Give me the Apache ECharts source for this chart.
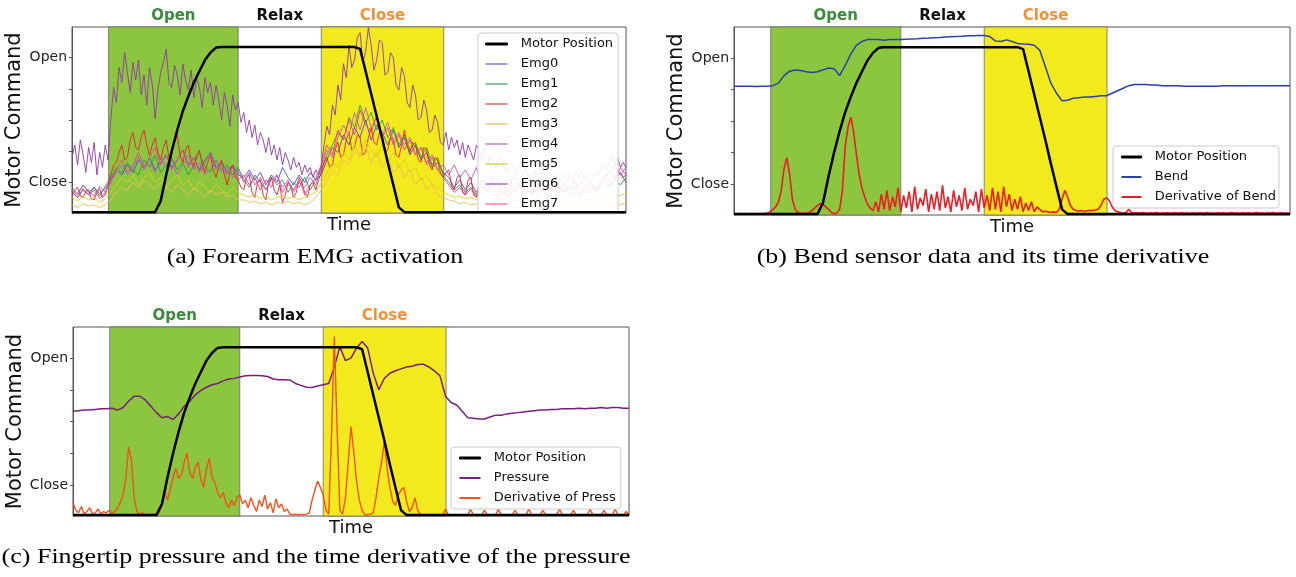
<!DOCTYPE html>
<html>
<head>
<meta charset="utf-8">
<title>Motor command, EMG, bend and pressure</title>
<script src="https://cdn.jsdelivr.net/npm/echarts@6/dist/echarts.min.js"></script>
<style>
  html, body { margin: 0; padding: 0; background: #fff; }
  #chart { width: 1296px; height: 577px; }
</style>
</head>
<body>
<div id="chart"></div>
<script>
// ---- data (motor command units: Close = 0, Open = 1) ----
const phaseNames = ['Open', 'Relax', 'Close']
const phaseStarts = [6.6, 30.0, 45.0]
const phaseEnds = [30.0, 45.0, 67.1]

const commandTicks = [0, 0.25, 0.5, 0.75, 1]
const commandLabelValues = [0, 1]
const commandLabels = ['Close', 'Open']

const captions = [
  '(a) Forearm EMG activation',
  '(b) Bend sensor data and its time derivative',
  '(c) Fingertip pressure and the time derivative of the pressure'
]

const emgNames = ['Emg0', 'Emg1', 'Emg2', 'Emg3', 'Emg4', 'Emg5', 'Emg6', 'Emg7']

// one sample per time unit (0..100)
const motorPosition = [
  -0.238, -0.238, -0.238, -0.238, -0.238, -0.238, -0.238, -0.238, -0.238, -0.238, -0.238, -0.238, -0.238, -0.238, -0.238, -0.238,
  -0.15, 0.06, 0.25, 0.42, 0.57, 0.69, 0.80, 0.89, 0.98, 1.04, 1.08,
  1.085, 1.085, 1.085, 1.085, 1.085, 1.085, 1.085, 1.085, 1.085, 1.085, 1.085, 1.085, 1.085, 1.085, 1.085, 1.085, 1.085, 1.085, 1.085, 1.085, 1.085, 1.085, 1.085, 1.085, 1.085,
  1.07, 0.89, 0.71, 0.53, 0.35, 0.16, -0.02, -0.20,
  -0.238, -0.238, -0.238, -0.238, -0.238, -0.238, -0.238, -0.238, -0.238, -0.238, -0.238, -0.238, -0.238, -0.238, -0.238, -0.238, -0.238, -0.238, -0.238, -0.238,
  -0.238, -0.238, -0.238, -0.238, -0.238, -0.238, -0.238, -0.238, -0.238, -0.238, -0.238, -0.238, -0.238, -0.238, -0.238, -0.238, -0.238, -0.238, -0.238, -0.238, -0.238
]

const emg0 = [
  -0.08, -0.12, -0.06, -0.10, -0.04, -0.09, -0.05,
  0.02, 0.10, 0.06, 0.14, 0.08, 0.18, 0.12, 0.20, 0.10, 0.16, 0.22, 0.12, 0.18, 0.26, 0.14, 0.20, 0.10, 0.18, 0.24, 0.12, 0.16, 0.08, 0.14, 0.06,
  0.04, 0.10, 0.02, 0.08, -0.02, 0.06, 0.00, 0.12, 0.04, -0.02, 0.06, 0.00, 0.08, 0.02,
  0.06, 0.18, 0.28, 0.24, 0.38, 0.30, 0.44, 0.36, 0.50, 0.34, 0.46, 0.40, 0.30, 0.42, 0.28, 0.36, 0.22, 0.30, 0.18, 0.24, 0.12, 0.16, 0.08,
  0.04, -0.04, 0.02, -0.06, 0.00, -0.08, -0.02, -0.06, 0.02, -0.04, -0.08, -0.02, -0.06, 0.00, -0.05, -0.09, -0.03, -0.07, 0.00, -0.05,
  -0.02, -0.08, -0.03, -0.06, 0.01, -0.04, -0.07, -0.02, 0.04, -0.03, 0.02, 0.08, 0.00
]
const emg1 = [
  -0.06, -0.10, -0.02, -0.08, -0.04, -0.11, -0.03,
  0.04, 0.12, 0.08, 0.16, 0.10, 0.06, 0.18, 0.12, 0.22, 0.08, 0.14, 0.20, 0.10, 0.16, 0.06, 0.14, 0.24, 0.12, 0.08, 0.18, 0.10, 0.14, 0.06, 0.12,
  0.02, -0.04, 0.06, 0.00, -0.06, 0.04, -0.02, 0.02, -0.08, 0.00, -0.04, 0.04, -0.06, 0.02,
  0.10, 0.22, 0.30, 0.40, 0.34, 0.52, 0.44, 0.62, 0.48, 0.56, 0.42, 0.50, 0.36, 0.44, 0.30, 0.38, 0.26, 0.32, 0.20, 0.28, 0.14, 0.20, 0.06,
  0.00, -0.06, -0.02, -0.08, -0.04, -0.10, -0.03, -0.07, -0.01, -0.06, -0.09, -0.04, -0.08, -0.02, -0.06, -0.10, -0.04, -0.07, -0.02, -0.06,
  -0.09, -0.03, -0.07, -0.02, -0.05, -0.09, -0.04, -0.06, 0.00, -0.04, 0.02, -0.02, 0.04
]
const emg3 = [
  -0.18, -0.20, -0.17, -0.19, -0.18, -0.20, -0.18,
  -0.14, -0.08, -0.04, -0.06, 0.00, -0.04, 0.02, -0.02, -0.06, 0.00, -0.04, -0.08, -0.02, -0.06, -0.10, -0.04, -0.08, -0.12, -0.06, -0.10, -0.08, -0.12, -0.10, -0.14,
  -0.14, -0.16, -0.15, -0.17, -0.16, -0.18, -0.16, -0.17, -0.15, -0.17, -0.16, -0.18, -0.16, -0.12,
  -0.06, 0.02, 0.10, 0.06, 0.18, 0.14, 0.26, 0.20, 0.30, 0.16, 0.24, 0.12, 0.20, 0.08, 0.14, 0.04, 0.10, -0.02, 0.04, -0.06, -0.02, -0.10, -0.12,
  -0.14, -0.15, -0.17, -0.16, -0.18, -0.17, -0.19, -0.18, -0.20, -0.19, -0.20, -0.19, -0.21, -0.20, -0.19, -0.21, -0.20, -0.19, -0.20, -0.21,
  -0.20, -0.19, -0.20, -0.21, -0.20, -0.19, -0.20, -0.19, -0.18, -0.19, -0.17, -0.18, -0.16
]
const emg4 = [
  -0.04, -0.09, -0.02, -0.07, -0.11, -0.03, -0.08,
  0.00, 0.08, 0.14, 0.06, 0.12, 0.20, 0.10, 0.16, 0.08, 0.20, 0.12, 0.18, 0.06, 0.14, 0.22, 0.10, 0.16, 0.06, 0.12, 0.18, 0.08, 0.12, 0.04, 0.10,
  0.00, 0.08, -0.02, 0.04, -0.06, 0.02, 0.06, -0.04, 0.02, -0.08, 0.00, -0.04, 0.04, -0.02,
  0.12, 0.26, 0.20, 0.36, 0.46, 0.38, 0.56, 0.42, 0.60, 0.44, 0.52, 0.38, 0.48, 0.34, 0.40, 0.30, 0.36, 0.22, 0.28, 0.16, 0.22, 0.10, 0.14,
  0.06, 0.14, 0.04, 0.10, 0.02, 0.12, -0.02, 0.06, -0.04, 0.04, -0.06, 0.02, -0.08, 0.00, -0.04, -0.08, -0.02, -0.06, -0.10, -0.04,
  -0.08, -0.02, -0.06, -0.09, -0.03, -0.07, -0.01, -0.05, 0.02, 0.08, 0.14, 0.06, 0.12
]
const emg5 = [
  -0.12, -0.15, -0.11, -0.14, -0.12, -0.16, -0.13,
  -0.08, -0.02, 0.04, 0.00, 0.06, -0.02, 0.04, 0.08, 0.00, 0.04, -0.04, 0.02, 0.06, -0.02, 0.02, -0.06, 0.00, -0.04, -0.08, -0.02, -0.06, -0.10, -0.04, -0.08,
  -0.10, -0.12, -0.09, -0.13, -0.11, -0.14, -0.12, -0.10, -0.13, -0.11, -0.14, -0.12, -0.10, -0.08,
  0.00, 0.08, 0.16, 0.12, 0.24, 0.18, 0.30, 0.22, 0.34, 0.26, 0.20, 0.30, 0.16, 0.24, 0.12, 0.18, 0.08, 0.12, 0.02, 0.06, -0.02, -0.04, -0.08,
  -0.10, -0.12, -0.11, -0.13, -0.12, -0.14, -0.13, -0.12, -0.15, -0.13, -0.14, -0.12, -0.15, -0.13, -0.14, -0.16, -0.13, -0.15, -0.14, -0.12,
  -0.15, -0.13, -0.14, -0.16, -0.14, -0.13, -0.15, -0.12, -0.10, -0.12, -0.09, -0.11, -0.08
]
const emg7 = [
  -0.07, -0.12, -0.05, -0.10, -0.06, -0.13, -0.08,
  0.02, 0.10, 0.18, 0.08, 0.14, 0.24, 0.12, 0.20, 0.28, 0.14, 0.22, 0.10, 0.18, 0.26, 0.12, 0.20, 0.08, 0.16, 0.22, 0.10, 0.14, 0.06, 0.12, 0.02,
  0.06, -0.02, 0.04, -0.06, 0.02, -0.04, 0.06, -0.08, 0.00, -0.06, 0.02, -0.10, -0.02, 0.04,
  0.14, 0.30, 0.22, 0.42, 0.34, 0.50, 0.38, 0.58, 0.46, 0.40, 0.54, 0.36, 0.44, 0.30, 0.38, 0.26, 0.34, 0.22, 0.28, 0.14, 0.20, 0.10, 0.04,
  -0.02, -0.08, -0.04, -0.10, -0.05, -0.12, -0.06, -0.02, -0.08, -0.12, -0.04, -0.09, -0.06, -0.11, -0.03, -0.08, -0.12, -0.05, -0.09, -0.04,
  -0.10, -0.06, -0.11, -0.03, -0.08, -0.05, -0.10, -0.02, 0.04, 0.10, 0.02, 0.12, 0.06
]

const bend = [
  0.775, 0.775, 0.776, 0.775, 0.774, 0.775, 0.776, 0.780,
  0.80, 0.86, 0.895, 0.905, 0.90, 0.89, 0.885, 0.89, 0.905, 0.92, 0.915, 0.86, 0.94, 1.03, 1.10, 1.13, 1.145, 1.145, 1.145, 1.14, 1.145, 1.145, 1.145,
  1.148, 1.15, 1.152, 1.155, 1.157, 1.16, 1.162, 1.165, 1.168, 1.17, 1.172, 1.175, 1.176, 1.177,
  1.177, 1.17, 1.135, 1.13, 1.143, 1.13, 1.115, 1.11, 1.108, 1.10, 1.06, 0.93, 0.80, 0.72, 0.66, 0.665, 0.68, 0.685, 0.69, 0.69,
  0.695, 0.70, 0.70, 0.72, 0.74, 0.76, 0.78, 0.79,
  0.79, 0.79, 0.785, 0.785, 0.78, 0.78, 0.78, 0.78, 0.775, 0.775, 0.775, 0.775, 0.775, 0.775, 0.775, 0.78,
  0.78, 0.78, 0.78, 0.78, 0.78, 0.78, 0.78, 0.78, 0.78, 0.78, 0.78, 0.78
]

const pressure = [
  0.58, 0.585, 0.59, 0.59, 0.595, 0.60, 0.60, 0.605,
  0.59, 0.61, 0.66, 0.70, 0.70, 0.67, 0.62, 0.57, 0.53, 0.54, 0.515, 0.56, 0.62, 0.66, 0.71, 0.745, 0.77, 0.79, 0.80, 0.82, 0.835, 0.84, 0.85,
  0.86, 0.863, 0.862, 0.86, 0.855, 0.835, 0.83, 0.83, 0.828, 0.80, 0.785, 0.77, 0.768, 0.78, 0.79, 0.80,
  0.93, 1.09, 0.98, 1.00, 1.08, 1.13, 1.08, 0.88, 0.75, 0.84, 0.88, 0.90, 0.915, 0.93, 0.935, 0.95, 0.952, 0.93, 0.90, 0.86, 0.70, 0.65, 0.63, 0.58,
  0.53, 0.525, 0.52, 0.52, 0.535, 0.55, 0.55, 0.56, 0.565, 0.57, 0.575, 0.58, 0.585, 0.59, 0.59,
  0.595, 0.595, 0.60, 0.60, 0.60, 0.605, 0.60, 0.605, 0.605, 0.61, 0.605, 0.61, 0.61, 0.605, 0.605
]

// two samples per time unit (0..100 by 0.5)
const emg2 = [
  -0.10, -0.06, -0.04, -0.11, -0.12, -0.07, -0.06, -0.13, -0.14, -0.08, -0.05, -0.12, -0.10, -0.02,
  0.06, 0.14, 0.16, 0.24, 0.30, 0.18, 0.20, 0.34, 0.40, 0.28,
  0.26, 0.36, 0.42, 0.30, 0.22, 0.30, 0.36, 0.24, 0.18, 0.28,
  0.34, 0.20, 0.24, 0.32, 0.38, 0.22, 0.16, 0.26, 0.30, 0.18,
  0.12, 0.22, 0.26, 0.14, 0.08, 0.16, 0.22, 0.10, 0.04, 0.12,
  0.18, 0.06, -0.02, 0.08, 0.14, 0.04, 0.02,
  -0.04, -0.06, 0.04, 0.06, -0.08, -0.12, 0.00, 0.02, -0.10, -0.14,
  0.00, 0.04, -0.06, -0.10, -0.02, -0.16, -0.10, 0.00, -0.04, -0.12,
  -0.08, 0.04, 0.00, -0.08, -0.12, -0.02, 0.00, -0.06, 0.02,
  0.08, 0.16, 0.20, 0.12, 0.14, 0.26, 0.32, 0.20, 0.22, 0.34,
  0.40, 0.26, 0.28, 0.38, 0.36, 0.22, 0.24, 0.36, 0.44, 0.32,
  0.30, 0.40, 0.38, 0.24, 0.26, 0.36, 0.34, 0.22, 0.20, 0.30,
  0.42, 0.30, 0.24, 0.32, 0.30, 0.18, 0.16, 0.28, 0.26, 0.14,
  0.10, 0.20, 0.18, 0.08, 0.04,
  0.08, 0.10, -0.02, -0.06, 0.04, 0.06, -0.08, -0.10, 0.02, 0.04,
  -0.10, -0.12, 0.00, 0.02, -0.06, -0.08, 0.04, 0.06, -0.08, -0.10,
  0.00, -0.02, -0.12, -0.08, 0.04, 0.04, -0.06, -0.06, -0.12, -0.10,
  0.02, 0.00, -0.08, -0.06, 0.04, 0.00, -0.10, -0.12, -0.02, 0.02,
  -0.12, -0.08, 0.00, -0.02, -0.06, -0.04, 0.03, 0.00, -0.10, -0.08,
  -0.04, 0.00, 0.02, -0.04, -0.08, -0.06, 0.00, 0.04, 0.06, 0.00,
  -0.02, 0.04, 0.10, 0.06, 0.04, 0.06
]
const emg6 = [
  0.20, 0.30, 0.14, 0.34, 0.22, 0.08, 0.28, 0.16, 0.32, 0.06, 0.24, 0.12, 0.30, 0.18,
  0.50, 0.76, 0.64, 0.92, 0.80, 1.04, 0.88, 0.72, 0.96, 0.82,
  0.98, 0.70, 0.86, 0.62, 0.92, 0.78, 0.51, 0.74, 0.88, 0.96,
  1.07, 0.80, 0.76, 0.94, 0.86, 0.70, 0.95, 0.82, 0.74, 0.90,
  0.68, 0.84, 0.76, 0.60, 0.84, 0.72, 0.80, 0.62, 0.78, 0.66,
  0.50, 0.72, 0.62, 0.45, 0.70, 0.58, 0.64,
  0.48, 0.56, 0.40, 0.50, 0.36, 0.46, 0.30, 0.40, 0.34, 0.24,
  0.36, 0.22, 0.30, 0.18, 0.28, 0.14, 0.24, 0.18, 0.10, 0.20,
  0.12, 0.16, 0.06, 0.14, 0.08, 0.12, 0.04, 0.10, 0.06,
  0.14, 0.30, 0.45, 0.38, 0.62, 0.54, 0.78, 0.66, 0.95, 0.84,
  1.10, 0.92, 0.98, 1.16, 1.20, 0.96, 1.05, 1.24, 1.10, 0.90,
  0.98, 1.14, 1.12, 0.86, 0.88, 1.04, 1.00, 0.78, 0.74, 0.92,
  0.85, 0.64, 0.60, 0.78, 0.70, 0.50, 0.52, 0.66, 0.58, 0.40,
  0.42, 0.54, 0.48, 0.32, 0.30,
  0.40, 0.26, 0.36, 0.28, 0.34, 0.22, 0.32, 0.20, 0.30, 0.24,
  0.18, 0.30, 0.26, 0.16, 0.28, 0.14, 0.22, 0.18, 0.10, 0.20,
  0.18, 0.12, 0.08, 0.16, 0.14, 0.06, 0.12, 0.10, 0.06, 0.12,
  0.04, 0.08, 0.10, 0.02, 0.08, 0.06, 0.00, 0.06, 0.08, 0.02,
  0.06, 0.00, 0.04, 0.08, 0.02, 0.06, 0.00, 0.08, 0.04, 0.10,
  0.02, 0.06, 0.08, 0.04, 0.10, 0.06, 0.12, 0.14, 0.10, 0.18,
  0.22, 0.14, 0.20, 0.12, 0.16, 0.12
]

const bendDerivative = [
  -0.232, -0.235, -0.233, -0.235, -0.234, -0.235, -0.233, -0.235, -0.234, -0.235, -0.233, -0.234, -0.23,
  -0.22, -0.20, -0.18, -0.14, -0.05, 0.12, 0.21, 0.08, -0.12, -0.20,
  -0.225, -0.232, -0.234, -0.23, -0.225, -0.21, -0.19, -0.17, -0.155, -0.16,
  -0.18, -0.20, -0.225, -0.235, -0.23, -0.20, -0.05, 0.30, 0.45, 0.53,
  0.42, 0.24, 0.08, -0.03, -0.10, -0.16, -0.19, -0.21, -0.14,
  -0.22, -0.08, -0.20, -0.05, -0.21, -0.10, -0.18, -0.03, -0.22, -0.09,
  -0.19, -0.06, -0.22, -0.02, -0.20, -0.11, -0.17, -0.04, -0.22, -0.08,
  -0.20, -0.06, -0.21, -0.01, -0.19, -0.10, -0.22, -0.05, -0.18, -0.09,
  -0.21, -0.03, -0.20, -0.12, -0.17, -0.06, -0.22, -0.04, -0.19,
  -0.09, -0.21, -0.03, -0.20, -0.06, -0.22, -0.02, -0.18, -0.08, -0.21,
  -0.12, -0.20, -0.10, -0.22, -0.15, -0.21, -0.14, -0.22, -0.18, -0.20,
  -0.22, -0.215, -0.22, -0.225, -0.22, -0.225,
  -0.20, -0.12, -0.05, -0.10, -0.17, -0.20, -0.21, -0.215,
  -0.21, -0.215, -0.212, -0.208, -0.21, -0.205, -0.20,
  -0.17, -0.12, -0.11, -0.13, -0.18, -0.21, -0.22, -0.225, -0.23, -0.225, -0.20, -0.225,
  -0.23, -0.228, -0.232, -0.225, -0.23, -0.234, -0.228, -0.231, -0.226, -0.233,
  -0.229, -0.232, -0.227, -0.234, -0.23, -0.228, -0.233, -0.226, -0.231, -0.229,
  -0.234, -0.227, -0.232, -0.23, -0.228, -0.233, -0.225, -0.231, -0.229, -0.234,
  -0.228, -0.232, -0.227, -0.233, -0.23, -0.226, -0.232, -0.229, -0.234, -0.228,
  -0.231, -0.227, -0.233, -0.23, -0.225, -0.232, -0.229, -0.234, -0.228, -0.231,
  -0.226, -0.233, -0.23, -0.228, -0.232, -0.229, -0.231
]

const pressureDerivative = [
  -0.14, -0.20, -0.22, -0.17, -0.23, -0.21, -0.18, -0.23, -0.22, -0.19, -0.23, -0.21, -0.22,
  -0.20, -0.22, -0.21, -0.18, -0.14, -0.08, 0.05, 0.30, 0.20, -0.10,
  -0.21, -0.23, -0.22, -0.235, -0.23, -0.235, -0.23, -0.235, -0.22, -0.16,
  -0.05, -0.12, -0.03, 0.06, 0.13, 0.05, 0.08, 0.18, 0.25, 0.10,
  0.05, 0.14, 0.18, 0.04, -0.02, 0.12, 0.21, 0.06, 0.02, -0.06,
  -0.10, -0.06, -0.14, -0.18, -0.12, -0.16, -0.10, -0.08, -0.15, -0.12,
  -0.18, -0.10, -0.16, -0.21, -0.12, -0.17, -0.08, -0.19, -0.14, -0.22, -0.11, -0.18, -0.15, -0.21, -0.19, -0.23,
  -0.235, -0.23, -0.235, -0.232, -0.235, -0.23, -0.22,
  -0.12, -0.04, 0.03, -0.02, -0.08, -0.20, -0.23, 0.40, 1.17, 0.45,
  -0.20, -0.23, -0.10, 0.18, 0.46, 0.26, 0.03, -0.12, -0.20, -0.235,
  -0.235, -0.23, -0.22, -0.10, 0.06, 0.18, 0.34, 0.13, -0.02, -0.13,
  -0.16, -0.08, -0.04, -0.02, -0.13, -0.21, -0.18, -0.10, -0.20, -0.235,
  -0.237, -0.236, -0.237, -0.235, -0.237, -0.236, -0.237, -0.237, -0.19, -0.236,
  -0.237, -0.236, -0.237, -0.235, -0.237, -0.237, -0.236, -0.19, -0.237, -0.236,
  -0.237, -0.237, -0.20, -0.236, -0.237, -0.235, -0.237, -0.19, -0.236, -0.237,
  -0.237, -0.236, -0.237, -0.20, -0.237, -0.236, -0.237, -0.235, -0.19, -0.237,
  -0.236, -0.237, -0.237, -0.20, -0.236, -0.237, -0.235, -0.237, -0.236, -0.19,
  -0.237, -0.236, -0.237, -0.237, -0.20, -0.236, -0.237, -0.237, -0.235, -0.237,
  -0.19, -0.236, -0.237, -0.237, -0.236, -0.20, -0.237, -0.235, -0.237, -0.19,
  -0.237, -0.236, -0.237, -0.21, -0.236
]

// sample times on the shared 0..100 time axis
const time = motorPosition.map((_, i) => i)
const timeFine = bendDerivative.map((_, i) => i / 2)
const pairs = (ts, vs) => vs.map((v, i) => [ts[i], v])

// ---- styling ----
const phaseFills = ['#8cc63e', 'rgba(0,0,0,0)', '#f2ea1c']
const phaseBorders = ['#6b6b6b', 'rgba(0,0,0,0)', '#6b6b6b']
const phaseTextColors = ['#3b8a3e', '#111', '#f0923a']
const emgColors = ['#4a4ad8', '#2e9e3e', '#e8202a', '#f5b860', '#b85cc8', '#d8d020', '#8e3aa8', '#f0408a']
const emgLegendColors = ['#9a9ae0', '#8cc99a', '#e88a8e', '#f5d49a', '#d6a0dc', '#e0df80', '#c58fd0', '#f0a0c0']

const grids = [
  {left: 72, top: 27, width: 554, height: 186},
  {left: 734, top: 27, width: 556, height: 188},
  {left: 73, top: 327, width: 556, height: 189}
]
const nameGaps = [39, 42, 40]

const phaseArea = {
  silent: true,
  label: {position: 'top', distance: 3, fontSize: 15, fontWeight: 'bold'},
  data: phaseNames.map((n, i) => [
    {
      name: n,
      xAxis: phaseStarts[i],
      itemStyle: {color: phaseFills[i], borderColor: phaseBorders[i], borderWidth: 0.8},
      label: {color: phaseTextColors[i]}
    },
    {xAxis: phaseEnds[i]}
  ])
}

const motorSeries = (k) => ({
  name: 'Motor Position',
  type: 'line',
  xAxisIndex: k,
  yAxisIndex: k,
  data: pairs(time, motorPosition),
  showSymbol: false,
  color: '#000',
  lineStyle: {width: 2.5},
  z: 5,
  clip: false,
  markArea: phaseArea
})

const thinLine = (name, k, ts, vs, color, width) => ({
  name: name,
  type: 'line',
  xAxisIndex: k,
  yAxisIndex: k,
  data: pairs(ts, vs),
  showSymbol: false,
  color: color,
  lineStyle: {width: width}
})

const emgValues = [emg0, emg1, emg2, emg3, emg4, emg5, emg6, emg7]
const emgTimes = [time, time, timeFine, time, time, time, timeFine, time]

const series = [
  motorSeries(0),
  ...emgNames.map((n, k) => {
    const s = thinLine(n, 0, emgTimes[k], emgValues[k], emgColors[k], 1)
    s.lineStyle.opacity = 0.9
    return s
  }),
  motorSeries(1),
  thinLine('Bend', 1, time, bend, '#2c3fae', 1.5),
  thinLine('Derivative of Bend', 1, timeFine, bendDerivative, '#ee1c24', 1.6),
  motorSeries(2),
  thinLine('Pressure', 2, time, pressure, '#7b1f7f', 1.5),
  thinLine('Derivative of Press', 2, timeFine, pressureDerivative, '#f4511e', 1.4)
]

const motorLegendItem = {name: 'Motor Position', itemStyle: {color: '#000', borderColor: '#000', borderWidth: 1}}

const legendBase = {
  orient: 'vertical',
  icon: 'rect',
  itemHeight: 2,
  itemGap: 6,
  borderColor: '#cccccc',
  borderWidth: 1,
  borderRadius: 3,
  backgroundColor: 'rgba(255,255,255,0.9)',
  selectedMode: false,
  formatter: (n) => '  ' + n,
  textStyle: {fontSize: 13, lineHeight: 14, color: '#111'}
}

const option = {
  animation: false,
  backgroundColor: '#fff',
  textStyle: {fontFamily: 'DejaVu Sans'},
  grid: grids.map(g => Object.assign({show: true, borderColor: '#555', borderWidth: 1}, g)),
  xAxis: grids.map((g, k) => ({
    gridIndex: k,
    type: 'value',
    min: 0,
    max: 100,
    axisLine: {show: false},
    axisTick: {show: false},
    axisLabel: {show: false},
    splitLine: {show: false},
    name: 'Time',
    nameLocation: 'middle',
    nameGap: 3,
    nameTextStyle: {fontSize: 18, color: '#111'}
  })),
  yAxis: grids.map((g, k) => ({
    gridIndex: k,
    type: 'value',
    min: -0.245,
    max: 1.245,
    axisLine: {show: true, lineStyle: {color: '#555'}},
    axisTick: {show: true, customValues: commandTicks, length: 3, lineStyle: {color: '#555'}},
    axisLabel: {
      customValues: commandLabelValues,
      formatter: (v) => commandLabels[commandLabelValues.indexOf(v)] || '',
      fontSize: 14,
      color: '#222',
      margin: 5
    },
    splitLine: {show: false},
    name: 'Motor Command',
    nameLocation: 'middle',
    nameRotate: 90,
    nameGap: nameGaps[k],
    nameTextStyle: {fontSize: 21, color: '#111'}
  })),
  legend: [
    Object.assign({}, legendBase, {
      left: 478, top: 33, itemWidth: 22, padding: [4, 5, 3, 7],
      data: [motorLegendItem].concat(emgNames.map((n, k) => ({name: n, itemStyle: {color: emgLegendColors[k]}})))
    }),
    Object.assign({}, legendBase, {
      left: 1113, top: 146, itemWidth: 20, padding: [4, 3, 4, 8],
      data: [motorLegendItem, 'Bend', 'Derivative of Bend']
    }),
    Object.assign({}, legendBase, {
      left: 451, top: 447, itemWidth: 21, padding: [4, 5, 4, 8],
      data: [motorLegendItem, 'Pressure', 'Derivative of Press']
    })
  ],
  graphic: captions.map((c, i) => ({
    type: 'text',
    x: [315, 983, 316][i],
    y: [258, 258, 558][i],
    scaleX: 1.3,
    style: {
      text: c,
      fontSize: 20,
      fontFamily: 'Liberation Serif',
      fill: '#000',
      align: 'center',
      verticalAlign: 'middle'
    }
  })),
  series: series
}

const chart = echarts.init(document.getElementById('chart'))
chart.setOption(option)
window.addEventListener('resize', () => chart.resize())
</script>
</body>
</html>
